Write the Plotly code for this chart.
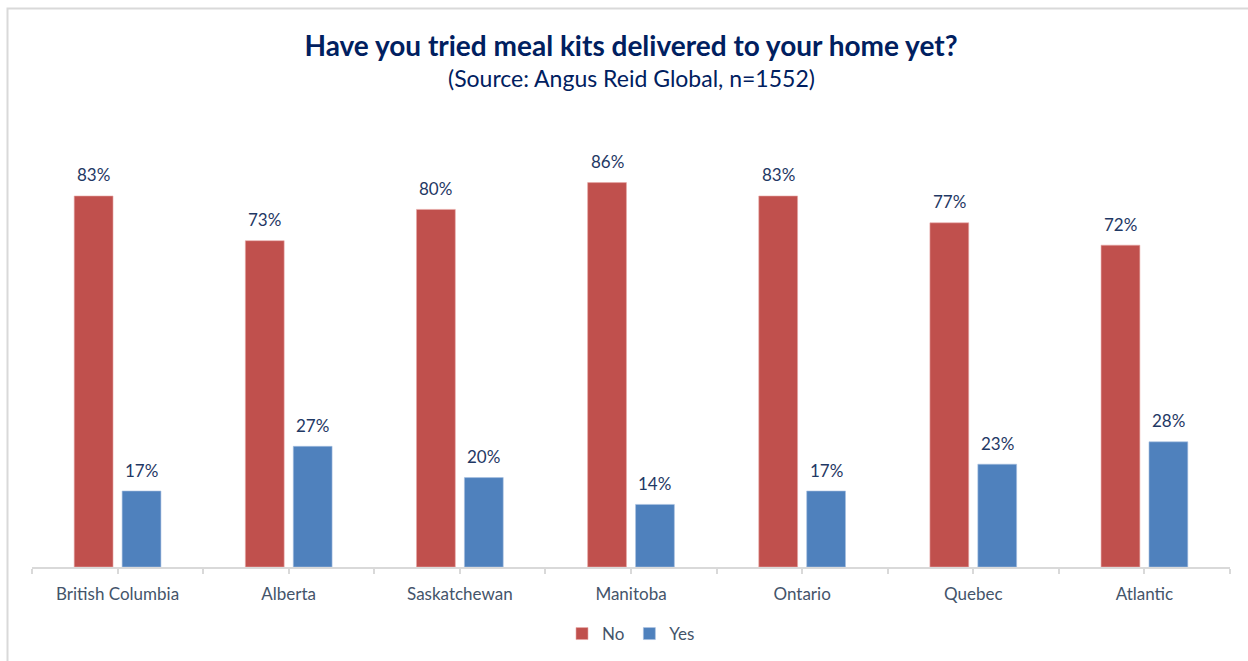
import plotly.graph_objects as go

categories = ["British Columbia", "Alberta", "Saskatchewan", "Manitoba", "Ontario", "Quebec", "Atlantic"]
no_values = [83, 73, 80, 86, 83, 77, 72]
yes_values = [17, 27, 20, 14, 17, 23, 28]

W, H = 1248, 661
ML, MR, MT, MB = 32, 18, 120, 94
pw = W - ML - MR
ph = H - MT - MB

FONT = "Lato, Carlito, sans-serif"
NAVY = "#1f3864"
SLATE = "#44546a"
BARGAP = 0.44
BARGROUPGAP = 0.19

xs = list(range(len(categories)))

fig = go.Figure()
fig.add_trace(go.Bar(
    x=xs, y=no_values, name="No",
    marker=dict(color="#c0504d", line=dict(color="#e8a9a7", width=0.6)),
))
fig.add_trace(go.Bar(
    x=xs, y=yes_values, name="Yes",
    marker=dict(color="#4f81bd", line=dict(color="#a9c1e0", width=0.6)),
))

# data labels placed over each bar of the group
slot = (1 - BARGAP) / 2
for series, sign in ((no_values, -1), (yes_values, 1)):
    for xi, v in zip(xs, series):
        fig.add_annotation(x=xi + sign * slot / 2, y=v, xref="x", yref="y",
                           text=f"{v}%", showarrow=False, yanchor="middle", yshift=21,
                           font=dict(family=FONT, size=17, color=NAVY))

# subtitle (paper coords converted from page pixel row 78)
fig.add_annotation(x=0.5, y=1 + (MT - 78) / ph, xref="paper", yref="paper",
                   text="(Source: Angus Reid Global, n=1552)", showarrow=False,
                   xanchor="center", yanchor="middle",
                   font=dict(family=FONT, size=23, color="#002060"))

# outer frame (extends past right/bottom page edge as in reference)
fig.add_shape(type="rect", xref="paper", yref="paper",
              x0=(7.5 - ML) / pw, x1=(W + 20 - ML) / pw,
              y0=-(MB + 20) / ph, y1=1 + (MT - 8.5) / ph,
              line=dict(color="#d9d9d9", width=2), fillcolor="rgba(0,0,0,0)", layer="below")

fig.update_layout(
    width=W, height=H,
    margin=dict(l=ML, r=MR, t=MT, b=MB, autoexpand=False),
    paper_bgcolor="white", plot_bgcolor="white",
    barmode="group", bargap=BARGAP, bargroupgap=BARGROUPGAP,
    font=dict(family=FONT, color=SLATE),
    title=dict(
        text="<b>Have you tried meal kits delivered to your home yet?</b>",
        x=0.5, xanchor="center", xref="paper", y=1 - 46 / H, yanchor="middle", yref="container",
        font=dict(family=FONT, size=28, color="#002060"),
    ),
    xaxis=dict(
        range=[-0.5, len(categories) - 0.5],
        tickmode="array", tickvals=xs, ticktext=categories,
        ticks="outside", ticklen=5, tickcolor="#d9d9d9", tickwidth=1.5,
        minor=dict(tickmode="array", tickvals=[i - 0.5 for i in range(len(categories) + 1)],
                   ticks="outside", ticklen=5, tickcolor="#d9d9d9", tickwidth=1.5),
        showline=True, linecolor="#d9d9d9", linewidth=2,
        showgrid=False, zeroline=False, fixedrange=True, automargin=False,
        ticklabelstandoff=6,
        tickfont=dict(family=FONT, size=17, color=SLATE),
    ),
    yaxis=dict(range=[0, 100], visible=False, showgrid=False, zeroline=False),
    legend=dict(
        orientation="h", x=0.5, xanchor="center", y=-(634 - 567) / ph, yanchor="middle",
        font=dict(family=FONT, size=17, color=SLATE),
        itemwidth=30, traceorder="normal",
    ),
    showlegend=True,
)

fig.write_html("out.html")
